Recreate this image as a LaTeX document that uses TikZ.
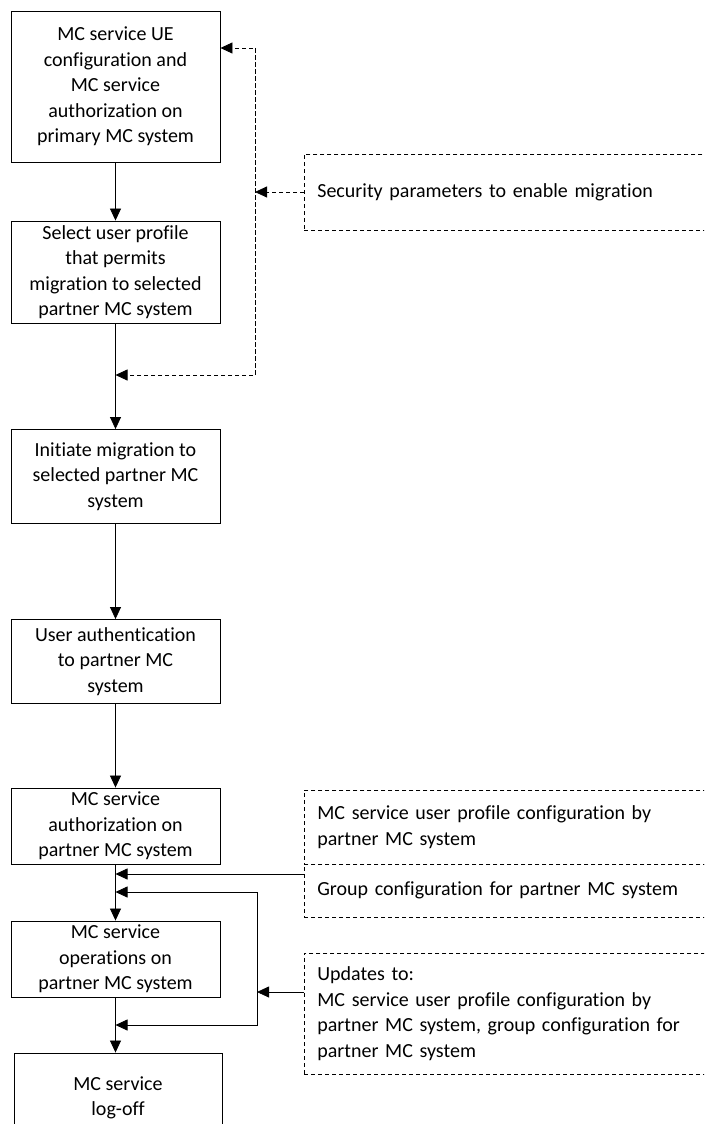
\documentclass[tikz,border=0pt]{standalone}
\usepackage{fontspec}
\setmainfont[Ligatures={NoCommon}]{Carlito}
\usetikzlibrary{arrows.meta}
\tikzset{
  box/.style={draw, line width=0.9pt, minimum width=209pt, inner sep=0pt, align=center,
    font=\fontsize{20}{25.5}\selectfont},
  dbox/.style={draw, dashed, dash pattern=on 4pt off 3pt, line width=0.7pt, minimum width=420pt,
    inner sep=0pt, inner xsep=13pt, align=left, text width=394pt, anchor=west,
    font=\fontsize{20}{25.5}\selectfont},
  arr/.style={line width=0.8pt, -{Triangle[length=12pt,width=11pt]}},
  darr/.style={arr, dash pattern=on 4pt off 3pt},
}
\begin{document}
\begin{tikzpicture}[x=1pt,y=-1pt]
\useasboundingbox (0,0) rectangle (704,1124);
\clip (0,0) rectangle (704,1124);
\fill[white] (0,0) rectangle (704,1124);
% main boxes
\node[box, minimum height=151pt] (b1) at (115.5,86.5) {MC service UE\\configuration and\\MC service\\authorization on\\primary MC system};
\node[box, minimum height=102pt] (b2) at (115.5,272) {Select user profile\\that permits\\migration to selected\\partner MC system};
\node[box, minimum height=94pt] (b3) at (115.5,476.5) {Initiate migration to\\selected partner MC\\system};
\node[box, minimum height=84pt] (b4) at (115.5,661.5) {User authentication\\to partner MC\\system};
\node[box, minimum height=76pt] (b5) at (115.5,826) {MC service\\authorization on\\partner MC system};
\node[box, minimum height=76pt] (b6) at (115.5,959) {MC service\\operations on\\partner MC system};
\node[box, minimum width=208pt, minimum height=90pt] (b7) at (118,1098) {MC service\\log-off};
% dashed side boxes
\node[dbox, minimum height=76pt] (sec) at (304,192) {Security parameters to enable migration};
\node[dbox, minimum height=74pt] (prof) at (304,827) {MC service user profile configuration by\\partner MC system};
\node[dbox, minimum height=53pt] (grp) at (304,890.5) {Group configuration for partner MC system};
\node[dbox, minimum height=121pt] (upd) at (304,1013.5) {Updates to:\\MC service user profile configuration by\\partner MC system, group configuration for\\partner MC system};
% coordinates
\coordinate (v1) at (255,48);
\coordinate (v2) at (255,375);
\coordinate (c1) at (304,874);
\coordinate (l1) at (257,892);
\coordinate (l2) at (257,1025);
\coordinate (u1) at (304,992);
% main flow
\draw[arr] (b1) -- (b2);
\draw[arr] (b2.south) -- (b3.north);
\draw[arr] (b3) -- (b4);
\draw[arr] (b4) -- (b5);
\draw[arr] (b5) -- (b6);
\draw[arr] (b6.south) -- (b6.south |- b7.north);
% dashed feedback
\draw[darr] (v2) -- (v1) -- (v1 -| b1.east);
\draw[darr] (v1) -- (v2) -- (v2 -| b2.south);
\draw[darr] (sec.west) -- (sec.west -| v1);
% bottom arrows
\draw[arr] (c1) -- (c1 -| b5.south);
\draw[arr] (l2) -- (l1) -- (l1 -| b5.south);
\draw[arr] (l1) -- (l2) -- (l2 -| b6.south);
\draw[arr] (u1) -- (u1 -| l1);
\end{tikzpicture}
\end{document}
